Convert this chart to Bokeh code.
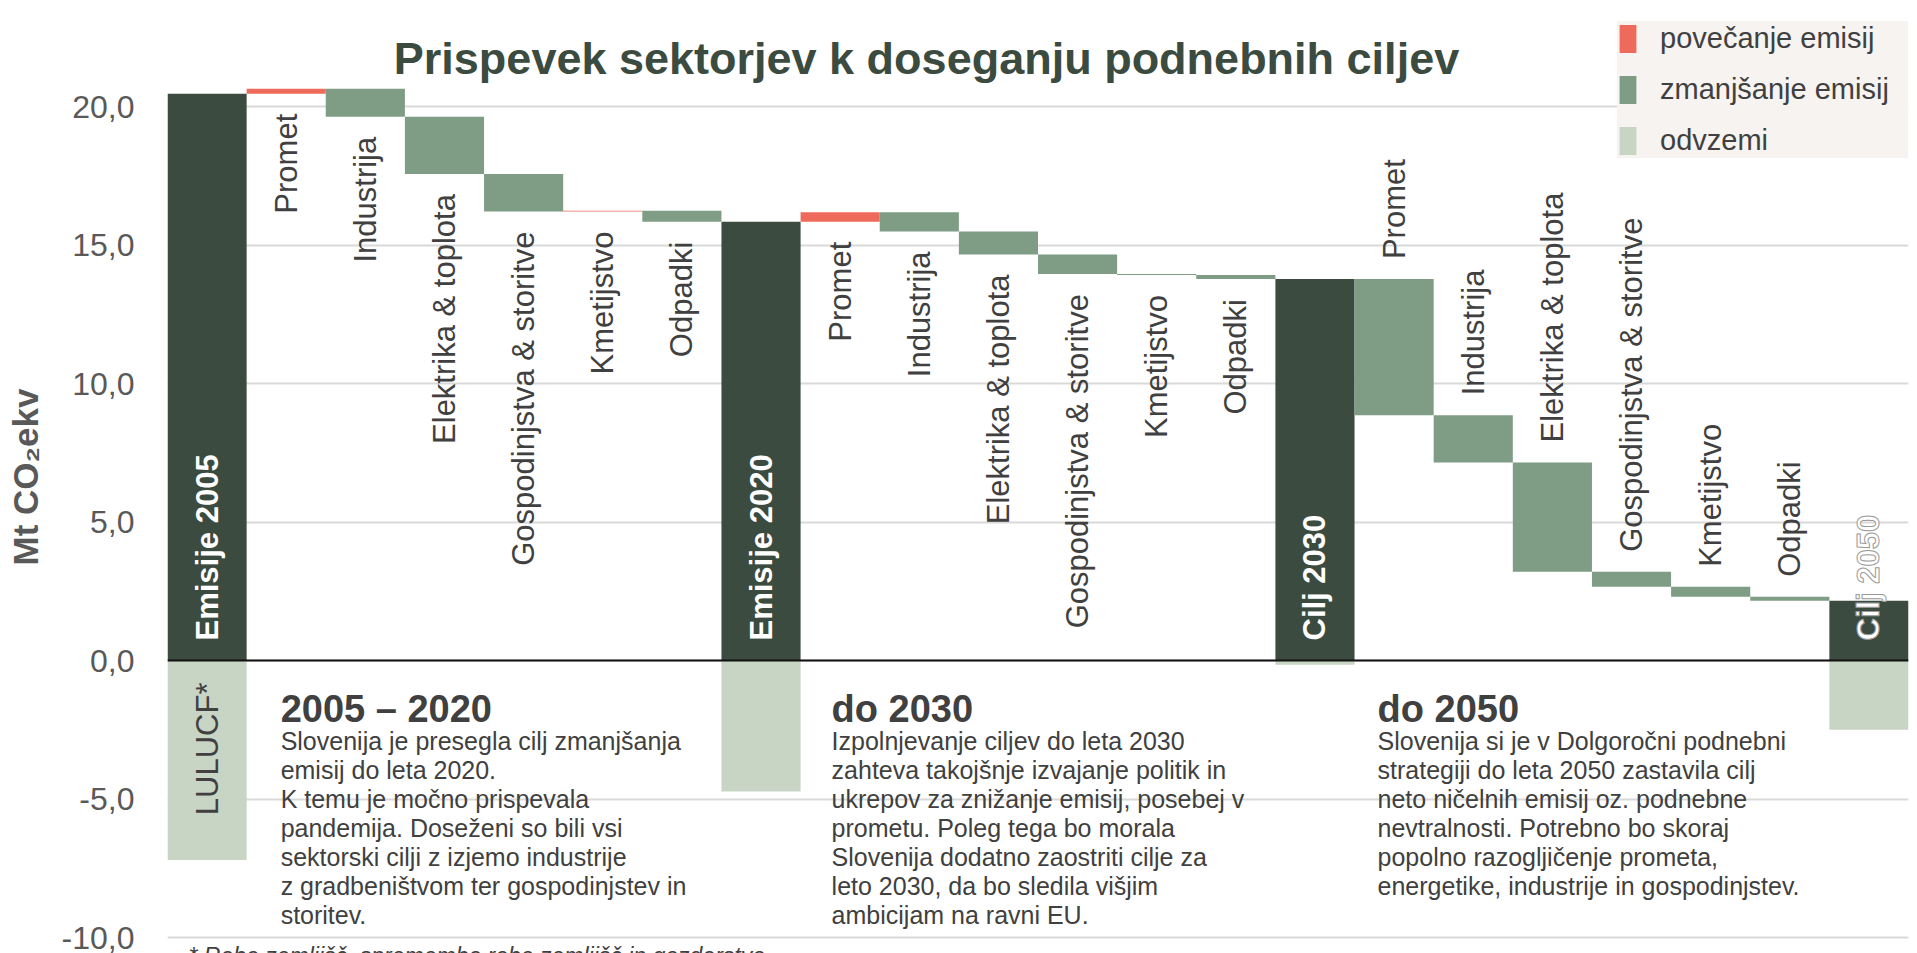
from math import pi
from bokeh.plotting import figure
from bokeh.models import (Range1d, FixedTicker, Span, Legend, LegendItem,
                          ColumnDataSource, Label)
from bokeh.core.properties import value
from bokeh.embed import file_html
from bokeh.resources import INLINE

# ---------------- data ----------------
chart_title = "Prispevek sektorjev k doseganju podnebnih ciljev"
y_axis_title = "Mt CO₂ekv"
sectors = ["Promet", "Industrija", "Elektrika & toplota",
           "Gospodinjstva & storitve", "Kmetijstvo", "Odpadki"]
total_labels = ["Emisije 2005", "Emisije 2020", "Cilj 2030", "Cilj 2050"]
totals = [20.46, 15.84, 13.77, 2.16]
change_2005_2020 = [0.18, -1.01, -2.07, -1.35, 0.03, -0.40]
change_2020_2030 = [0.34, -0.69, -0.83, -0.71, -0.03, -0.15]
change_2030_2050 = [-4.92, -1.70, -3.95, -0.54, -0.36, -0.14]
removals = [-7.2, -4.73, -0.15, -2.5]
removal_label = "LULUCF*"
legend_labels = ["povečanje emisij", "zmanjšanje emisij", "odvzemi"]
y_ticks = [-10, -5, 0, 5, 10, 15, 20]
y_tick_labels = ["-10,0", "-5,0", "0,0", "5,0", "10,0", "15,0", "20,0"]
block_titles = ["2005 – 2020", "do 2030", "do 2050"]
block_lines = [
    ["Slovenija je presegla cilj zmanjšanja",
     "emisij do leta 2020.",
     "K temu je močno prispevala",
     "pandemija. Doseženi so bili vsi",
     "sektorski cilji z izjemo industrije",
     "z gradbeništvom ter gospodinjstev in",
     "storitev."],
    ["Izpolnjevanje ciljev do leta 2030",
     "zahteva takojšnje izvajanje politik in",
     "ukrepov za znižanje emisij, posebej v",
     "prometu. Poleg tega bo morala",
     "Slovenija dodatno zaostriti cilje za",
     "leto 2030, da bo sledila višjim",
     "ambicijam na ravni EU."],
    ["Slovenija si je v Dolgoročni podnebni",
     "strategiji do leta 2050 zastavila cilj",
     "neto ničelnih emisij oz. podnebne",
     "nevtralnosti. Potrebno bo skoraj",
     "popolno razogljičenje prometa,",
     "energetike, industrije in gospodinjstev."],
]
footnote = "* Raba zemljišč, sprememba rabe zemljišč in gozdarstvo"

# ---------------- style / layout ----------------
FONT = "Liberation Sans"
C_TOTAL = "#3C4B40"
C_DEC = "#7F9C85"
C_INC = "#EE6A5A"
C_REM = "#C8D5C5"
C_TEXT = "#404040"
C_TICK = "#595959"

W, H = 1917, 953
ML, MR = 167, 9
N_CAT = 22
FRAME_W = W - ML - MR
PXX = FRAME_W / N_CAT
PXY = 27.7          # pixels per Mt
ZERO_PX = 660       # screen row of the zero line
Y_MAX = ZERO_PX / PXY
Y_MIN = -(H - ZERO_PX) / PXY

p = figure(width=W, height=H, x_range=Range1d(0, N_CAT),
           y_range=Range1d(Y_MIN, Y_MAX), output_backend="svg",
           toolbar_location=None, x_axis_location=None,
           min_border_left=ML, min_border_right=MR,
           min_border_top=0, min_border_bottom=0)
p.outline_line_color = None
p.background_fill_color = "white"
p.xgrid.grid_line_color = None
p.ygrid.ticker = FixedTicker(ticks=y_ticks)
p.ygrid.grid_line_color = "#D9D9D9"
p.ygrid.grid_line_width = 2

ax = p.yaxis[0]
ax.ticker = FixedTicker(ticks=y_ticks)
ax.major_label_overrides = {t: l for t, l in zip(y_ticks, y_tick_labels)}
ax.axis_line_color = None
ax.major_tick_line_color = None
ax.minor_tick_line_color = None
ax.major_tick_out = 0
ax.major_tick_in = 0
ax.major_label_standoff = 33
ax.major_label_text_font = FONT
ax.major_label_text_font_size = "32px"
ax.major_label_text_color = C_TICK
ax.axis_label = y_axis_title
ax.axis_label_text_font = FONT
ax.axis_label_text_font_size = "35px"
ax.axis_label_text_font_style = "bold"
ax.axis_label_text_color = C_TICK
ax.axis_label_standoff = 14

# ---------------- build waterfall ----------------
tot_x = [7 * k + 0.5 for k in range(4)]
src_tot = ColumnDataSource(dict(x=tot_x, bottom=[0] * 4, top=totals))
src_rem = ColumnDataSource(dict(x=tot_x, bottom=removals, top=[0] * 4))

inc = dict(x=[], bottom=[], top=[])
dec = dict(x=[], bottom=[], top=[])
lab_below = dict(x=[], y=[], text=[])
lab_above = dict(x=[], y=[], text=[])
for k, ch in enumerate([change_2005_2020, change_2020_2030, change_2030_2050]):
    level = totals[k]
    for j, c in enumerate(ch):
        xi = 7 * k + 1 + j + 0.5
        start, end = level, level + c
        level = end
        lo, hi = min(start, end), max(start, end)
        tgt = inc if c > 0 else dec
        tgt["x"].append(xi)
        tgt["bottom"].append(lo)
        tgt["top"].append(hi)
        if k < 2:
            lab_below["x"].append(xi)
            lab_below["y"].append(lo - 20 / PXY)
            lab_below["text"].append(sectors[j])
        else:
            lab_above["x"].append(xi)
            lab_above["y"].append(hi + 20 / PXY)
            lab_above["text"].append(sectors[j])

r_rem = p.vbar(x="x", bottom="bottom", top="top", width=1.0, source=src_rem,
               fill_color=C_REM, line_color=None)
p.vbar(x="x", bottom="bottom", top="top", width=1.0, source=src_tot,
       fill_color=C_TOTAL, line_color=None)
r_inc = p.vbar(x="x", bottom="bottom", top="top", width=1.0,
               source=ColumnDataSource(inc), fill_color=C_INC, line_color=None)
r_dec = p.vbar(x="x", bottom="bottom", top="top", width=1.0,
               source=ColumnDataSource(dec), fill_color=C_DEC, line_color=None)

p.add_layout(Span(location=0, dimension="width", line_color="#111111",
                  line_width=2))

# sector labels
p.text(x="x", y="y", text="text", source=ColumnDataSource(lab_below),
       angle=pi / 2, text_align="right", text_baseline="middle",
       text_font=value(FONT), text_font_size="31px", text_color=C_TEXT)
p.text(x="x", y="y", text="text", source=ColumnDataSource(lab_above),
       angle=pi / 2, text_align="left", text_baseline="middle",
       text_font=value(FONT), text_font_size="31px", text_color=C_TEXT)

# total labels
p.text(x=tot_x[:3], y=[20 / PXY] * 3, text=total_labels[:3], angle=pi / 2,
       text_align="left", text_baseline="middle", text_font=value(FONT),
       text_font_size="31px", text_font_style="bold", text_color="white")
r50 = p.text(x=tot_x[3:], y=[20 / PXY], text=total_labels[3:], angle=pi / 2,
             text_align="left", text_baseline="middle", text_font=value(FONT),
             text_font_size="31px", text_font_style="bold", text_color="white")
try:
    r50.glyph.text_outline_color = "#9A9A9A"
except Exception:
    pass

# removal label
p.text(x=tot_x[:1], y=[-22 / PXY], text=[removal_label], angle=pi / 2,
       text_align="right", text_baseline="middle", text_font=value(FONT),
       text_font_size="31px", text_color=C_TEXT)

# text blocks
block_x = [1 + 34 / PXX, 8 + 31 / PXX, 15 + 23 / PXX]
for bx, bt, lines in zip(block_x, block_titles, block_lines):
    p.text(x=[bx], y=[-48 / PXY], text=[bt], text_align="left",
           text_baseline="alphabetic", text_font=value(FONT),
           text_font_size="38px", text_font_style="bold", text_color=C_TEXT)
    p.text(x=[bx] * len(lines),
           y=[-(80 + 29 * i) / PXY for i in range(len(lines))],
           text=lines, text_align="left", text_baseline="alphabetic",
           text_font=value(FONT), text_font_size="25px", text_color=C_TEXT)

# footnote (cut at the bottom edge as in the original)
p.text(x=[21 / PXX], y=[-(942 - ZERO_PX) / PXY], text=[footnote],
       text_align="left", text_baseline="top", text_font=value(FONT),
       text_font_size="23px", text_font_style="italic", text_color=C_TEXT)

# title
p.add_layout(Label(x=(926 - ML) / PXX, y=Y_MAX - 58 / PXY, text=chart_title,
                   text_align="center", text_baseline="alphabetic",
                   text_font=FONT, text_font_size="45px",
                   text_font_style="bold", text_color=C_TOTAL))

# legend
legend = Legend(items=[LegendItem(label=legend_labels[0], renderers=[r_inc]),
                       LegendItem(label=legend_labels[1], renderers=[r_dec]),
                       LegendItem(label=legend_labels[2], renderers=[r_rem])],
                location=(1617 - ML, H - 158), margin=0, padding=16,
                spacing=16, glyph_width=21, glyph_height=35, label_height=35,
                label_width=258, label_standoff=22,
                label_text_font=FONT, label_text_font_size="29px",
                label_text_color=C_TEXT, background_fill_color="#F6F3F0",
                background_fill_alpha=1.0, border_line_color=None)
p.add_layout(legend)

open("out.html", "w").write(file_html(p, INLINE))
